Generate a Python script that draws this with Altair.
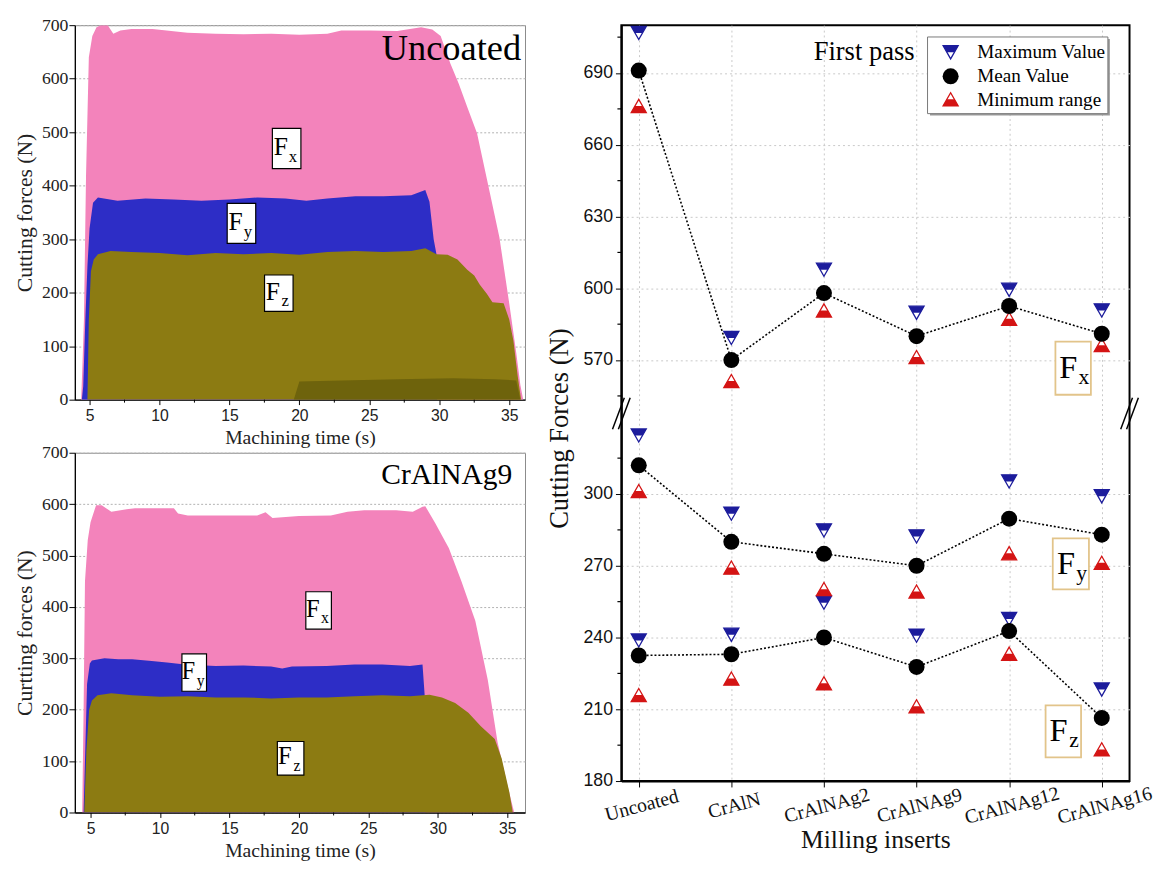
import altair as alt
import pandas as pd

# ---------------- Left panels: cutting-force signal envelopes ----------------
# Uncoated insert (top panel)
unc_fx_t = [4.40, 4.50, 4.60, 4.75, 4.95, 5.20, 5.50, 5.80, 6.30, 6.70, 7.20, 8.0, 9.5, 10.5, 12.0,
            14.0, 16.0, 18.0, 20.0, 22.0, 23.0, 25.0, 27.0, 28.7, 29.5, 30.1, 30.8, 31.4, 32.0, 32.7,
            33.4, 34.3, 35.0, 35.5, 35.8, 36.0]
unc_fx_v = [0, 70, 150, 420, 640, 680, 696, 700, 700, 684, 690, 693, 693, 690, 686,
            684, 683, 684, 682, 684, 690, 690, 689, 696, 692, 680, 628, 590, 547, 498,
            413, 303, 180, 88, 27, 0]
unc_fy_t = [4.45, 4.55, 4.70, 4.85, 5.00, 5.25, 5.60, 7.0, 9.0, 11.0, 13.0, 15.0, 17.0, 19.0, 20.5,
            22.0, 24.0, 26.0, 28.0, 29.0, 29.3, 29.6, 29.8, 29.85]
unc_fy_v = [0, 25, 150, 250, 320, 368, 378, 372, 376, 374, 372, 374, 378, 376, 372,
            376, 380, 380, 382, 392, 370, 300, 272, 0]
unc_fz_t = [4.85, 4.95, 5.10, 5.30, 5.60, 6.5, 8.0, 10.0, 12.0, 14.0, 16.0, 18.0, 20.0, 22.0, 24.0,
            26.0, 28.0, 29.0, 29.8, 30.6, 31.3, 32.0, 32.5, 32.9, 33.4, 33.8, 34.6, 35.0, 35.3, 35.6, 35.85]
unc_fz_v = [0, 150, 240, 262, 272, 278, 276, 274, 270, 274, 272, 274, 271, 276, 278,
            276, 278, 283, 272, 271, 262, 243, 232, 215, 198, 182, 180, 150, 110, 45, 0]
# dense low-level band visible at the bottom of the Uncoated record
unc_base_t = [19.6, 20.0, 23.0, 27.0, 31.0, 34.0, 35.5, 35.8]
unc_base_v = [0, 34, 36, 38, 40, 38, 36, 0]

# CrAlNAg9 insert (bottom panel)
ag9_fx_t = [4.40, 4.50, 4.60, 4.80, 5.00, 5.40, 5.80, 6.50, 7.60, 8.2, 11.0, 11.3, 12.0, 15.0, 17.0,
            17.6, 18.1, 20.0, 22.3, 23.5, 24.7, 27.0, 28.2, 28.9, 29.1, 29.8, 30.8, 31.7, 32.7, 33.6,
            34.3, 35.0, 35.5]
ag9_fx_v = [0, 200, 450, 530, 565, 598, 598, 585, 590, 592, 592, 582, 578, 578, 578,
            584, 573, 577, 578, 585, 588, 588, 585, 595, 596, 564, 514, 450, 373, 258,
            137, 54, 0]
ag9_fy_t = [4.50, 4.60, 4.75, 4.95, 5.10, 6.0, 7.0, 8.0, 9.4, 10.5, 11.8, 14.0, 16.0, 18.0, 18.8,
            19.5, 22.0, 24.0, 26.0, 28.0, 28.9, 29.05, 29.1]
ag9_fy_v = [0, 100, 250, 290, 296, 300, 298, 298, 295, 292, 288, 285, 286, 284, 280,
            284, 285, 288, 288, 285, 288, 230, 0]
ag9_fz_t = [4.55, 4.70, 4.90, 5.10, 5.50, 6.50, 8.0, 10.0, 12.0, 14.0, 16.0, 18.0, 20.0, 22.0, 24.0,
            26.0, 28.0, 29.4, 30.3, 31.25, 32.2, 33.1, 34.1, 34.6, 35.15, 35.4]
ag9_fz_v = [0, 120, 200, 218, 228, 232, 228, 225, 226, 224, 224, 222, 224, 224, 226,
            228, 226, 229, 224, 213, 194, 168, 143, 105, 40, 0]

time_ticks = [5, 10, 15, 20, 25, 30, 35]
time_minor = [7.5, 12.5, 17.5, 22.5, 27.5, 32.5]
force_ticks = [0, 100, 200, 300, 400, 500, 600, 700]

# ---------------- Right panel: first-pass statistics ----------------
inserts = ["Uncoated", "CrAlN", "CrAlNAg2", "CrAlNAg9", "CrAlNAg12", "CrAlNAg16"]
fx_max = [707, 579.5, 608, 590, 599.6, 591]
fx_mean = [691, 570, 598, 580, 592.6, 581]
fx_min = [676, 561, 590.5, 571, 587, 576]
fy_max = [324.7, 292, 285, 282.5, 305.5, 299.3]
fy_mean = [312, 280, 275, 270, 289.7, 283]
fy_min = [301, 269, 260, 259, 275, 271]
fz_max = [239, 241.4, 254.8, 241, 248, 218.5]
fz_mean = [232.5, 233, 240, 227.7, 242.7, 206.4]
fz_min = [215.7, 222.6, 220.6, 211, 233, 193]
right_ticks = [180, 210, 240, 270, 300, 570, 600, 630, 660, 690]
right_minor = [195, 225, 255, 285, 315, 555, 585, 615, 645, 675, 705]
BREAK_SHIFT = 214  # upper segment (548-710) drawn directly above lower one (180-334)

SERIF = "Liberation Serif"
SANS = "Liberation Sans"
PINK, BLUE, OLIVE, DARK_OLIVE = "#F383BB", "#2D2DC6", "#8C7B12", "#6E630C"
MAXC, MINC = "#1C1C9C", "#D41414"
TAN = "#E2C48A"

one = pd.DataFrame({"a": [0]})


def left_panel(series, xdom, h, ytitle, name, name_t, name_v, name_fs, boxes, fsF, fsS):
    xsc = alt.Scale(domain=xdom, nice=False, zero=False)
    ysc = alt.Scale(domain=[0, 700], nice=False)
    xax = alt.Axis(values=time_ticks, title="Machining time (s)", labelFont=SANS, labelFontSize=16,
                   titleFont=SERIF, titleFontSize=20, titleFontWeight="normal", grid=False,
                   tickSize=5, domainColor="black", tickColor="black", domainWidth=1.3,
                   labelColor="#222222", titleColor="#222222", labelPadding=3, titlePadding=5)
    yax = alt.Axis(values=force_ticks, title=ytitle, labelFont=SERIF, labelFontSize=18,
                   titleFont=SERIF, titleFontSize=22, titleFontWeight="normal", grid=True,
                   gridDash=[2, 2], gridColor="#b0b0b0", tickSize=6, domainColor="black",
                   tickColor="black", domainWidth=1.3, labelColor="#222222", titleColor="#222222",
                   labelPadding=1, titlePadding=5)

    def X(f):
        return alt.X(f, type="quantitative", scale=xsc, axis=xax)

    def Y(f):
        return alt.Y(f, type="quantitative", scale=ysc, axis=yax)

    layers = []
    for (t, v), col in series:
        df = pd.DataFrame({"t": t, "v": v})
        layers.append(alt.Chart(df).mark_area(color=col, clip=True, opacity=1).encode(x=X("t"), y=Y("v")))
    # minor time ticks
    layers.append(alt.Chart(pd.DataFrame({"t": time_minor})).mark_rule(color="black", strokeWidth=1)
                  .encode(x=X("t"), y=alt.value(h), y2=alt.value(h + 3)))
    bdf = pd.DataFrame(boxes, columns=["t", "t2", "v", "v2", "sub"])
    bdf["tc"] = (bdf["t"] + bdf["t2"]) / 2
    bdf["vc"] = (bdf["v"] + bdf["v2"]) / 2
    layers.append(alt.Chart(bdf).mark_rect(fill="white", stroke="black", strokeWidth=1.2)
                  .encode(x=X("t"), x2="t2", y=Y("v"), y2="v2"))
    layers.append(alt.Chart(bdf).mark_text(text="F", font=SERIF, fontSize=fsF, dx=-6, dy=fsF * 0.25,
                                           baseline="alphabetic", align="center", color="black")
                  .encode(x=X("tc"), y=Y("vc")))
    layers.append(alt.Chart(bdf).mark_text(font=SERIF, fontSize=fsS, dx=6.5, dy=fsF * 0.25 + 7,
                                           baseline="alphabetic", align="center", color="black")
                  .encode(x=X("tc"), y=Y("vc"), text="sub:N"))
    ndf = pd.DataFrame({"t": [name_t], "v": [name_v]})
    layers.append(alt.Chart(ndf).mark_text(text=name, font=SERIF, fontSize=name_fs, align="right",
                                           baseline="alphabetic", color="black")
                  .encode(x=X("t"), y=Y("v")))
    return alt.layer(*layers).properties(width=458, height=h,
                                         view=alt.ViewBackground(stroke="#8a8a8a", strokeWidth=1))


top = left_panel([((unc_fx_t, unc_fx_v), PINK), ((unc_fy_t, unc_fy_v), BLUE),
                  ((unc_fz_t, unc_fz_v), OLIVE), ((unc_base_t, unc_base_v), DARK_OLIVE)],
                 [3.95, 36.13], 381, "Cutting forces (N)", "Uncoated", 35.85, 634, 37,
                 [[18.07, 20.11, 507, 432, "x"], [14.84, 16.88, 367, 292, "y"], [17.51, 19.55, 233, 165, "z"]],
                 26, 17)
bottom = left_panel([((ag9_fx_t, ag9_fx_v), PINK), ((ag9_fy_t, ag9_fy_v), BLUE),
                     ((ag9_fz_t, ag9_fz_v), OLIVE)],
                    [3.87, 36.28], 366, "Curtting forces (N)", "CrAlNAg9", 35.36, 638.6, 30,
                    [[20.5, 22.34, 429.6, 356.7, "x"], [11.58, 13.35, 308.8, 235.9, "y"], [18.45, 20.36, 138.1, 72.9, "z"]],
                    25, 16)

left = alt.vconcat(top, bottom, spacing=54, bounds="flush")

# ---------------- Right panel ----------------
rows = []
for force, arrs in [("Fx", (fx_max, fx_mean, fx_min)), ("Fy", (fy_max, fy_mean, fy_min)),
                    ("Fz", (fz_max, fz_mean, fz_min))]:
    for stat, arr in zip(["max", "mean", "min"], arrs):
        for i, (ins, val) in enumerate(zip(inserts, arr)):
            rows.append({"insert": ins, "idx": i, "force": force, "stat": stat, "v": val})
rdf = pd.DataFrame(rows)

shifted_ticks = [t - BREAK_SHIFT if t > 400 else t for t in right_ticks]
SHIFT_EXPR = "datum.v > 400 ? datum.v - %d : datum.v" % BREAK_SHIFT

xr_axis = alt.Axis(title="Milling inserts", labelFont=SERIF, labelFontSize=20, labelAngle=-15,
                   labelAlign="center", labelBaseline="top", labelPadding=9, tickSize=6,
                   tickColor="black", domainColor="black", domainWidth=2, labelColor="#111111",
                   grid=True, gridDash=[2, 3], gridColor="#c8c8c8", titleFont=SERIF, titleFontSize=26,
                   titleFontWeight="normal", titleColor="#111111", titlePadding=0)
yr_axis = alt.Axis(values=shifted_ticks, title="Cutting Forces (N)",
                   labelExpr="datum.value > 334 ? format(datum.value + %d, 'd') : format(datum.value, 'd')" % BREAK_SHIFT,
                   labelFont=SANS, labelFontSize=18, tickSize=6, labelPadding=3, tickColor="black",
                   domainColor="black", domainWidth=2, labelColor="#111111", grid=True, gridDash=[2, 3],
                   gridColor="#c8c8c8", titleFont=SERIF, titleFontSize=27, titleFontWeight="normal",
                   titleColor="#111111", titlePadding=10, titleY=410)

XR = alt.X("insert:N", scale=alt.Scale(type="point", domain=inserts, padding=0.244, align=0.385),
           axis=xr_axis)
YR = alt.Y("yt:Q", scale=alt.Scale(domain=[180, 496], nice=False, zero=False), axis=yr_axis)

base = alt.Chart(rdf).transform_calculate(yt=SHIFT_EXPR)

DOWN = "M -1 -0.8 L 1 -0.8 L 0 0.95 Z"
DOWN_HALF = "M -1 -0.8 L 1 -0.8 L 0.5 0.075 L -0.5 0.075 Z"
UP = "M -1 0.8 L 1 0.8 L 0 -0.95 Z"
UP_HALF = "M -1 0.8 L 1 0.8 L 0.5 -0.075 L -0.5 -0.075 Z"
TRI = 235
DOT = 265

r_layers = []
# minor ticks on the force axis
r_layers.append(alt.Chart(pd.DataFrame({"v": right_minor})).transform_calculate(yt=SHIFT_EXPR)
                .mark_rule(color="black", strokeWidth=1.2)
                .encode(y=YR, x=alt.value(-4), x2=alt.value(0)))
r_layers.append(base.transform_filter("datum.stat == 'mean'").mark_line(
    color="black", strokeDash=[2, 2], strokeWidth=1.6).encode(
    x=XR, y=YR, detail="force:N", order="idx:Q"))
mx = base.transform_filter("datum.stat == 'max'")
r_layers.append(mx.mark_point(shape=DOWN, filled=True, fill="white", stroke=MAXC, strokeWidth=1.3,
                              size=TRI, opacity=1).encode(x=XR, y=YR))
r_layers.append(mx.mark_point(shape=DOWN_HALF, filled=True, color=MAXC, size=TRI, opacity=1)
                .encode(x=XR, y=YR))
mn = base.transform_filter("datum.stat == 'min'")
r_layers.append(mn.mark_point(shape=UP, filled=True, fill="white", stroke=MINC, strokeWidth=1.3,
                              size=TRI, opacity=1).encode(x=XR, y=YR))
r_layers.append(mn.mark_point(shape=UP_HALF, filled=True, color=MINC, size=TRI, opacity=1)
                .encode(x=XR, y=YR))
r_layers.append(base.transform_filter("datum.stat == 'mean'").mark_point(
    shape="circle", filled=True, color="black", size=DOT, opacity=1).encode(x=XR, y=YR))

# force labels (boxed)
for x1, x2, y1, y2, sub in [(441.6, 477.7, 322, 376, "x"), (438.9, 475.7, 522, 574, "y"),
                            (431.6, 467.7, 692, 745, "z")]:
    cx, cy = (x1 + x2) / 2, (y1 + y2) / 2
    r_layers.append(alt.Chart(one).mark_rect(fill="white", stroke=TAN, strokeWidth=1.8).encode(
        x=alt.value(x1), x2=alt.value(x2), y=alt.value(y1), y2=alt.value(y2)))
    r_layers.append(alt.Chart(one).mark_text(text="F", font=SERIF, fontSize=33, align="center",
                                             baseline="alphabetic", color="black").encode(
        x=alt.value(cx - 5), y=alt.value(cy + 10)))
    r_layers.append(alt.Chart(one).mark_text(text=sub, font=SERIF, fontSize=22, align="center",
                                             baseline="alphabetic", color="black").encode(
        x=alt.value(cx + 11), y=alt.value(cy + 16)))

# panel caption
r_layers.append(alt.Chart(one).mark_text(text="First pass", font=SERIF, fontSize=27, align="center",
                                         baseline="alphabetic", color="black").encode(
    x=alt.value(247), y=alt.value(35)))

# legend
r_layers.append(alt.Chart(one).mark_rect(fill="#9a9a9a").encode(
    x=alt.value(314), x2=alt.value(497), y=alt.value(14), y2=alt.value(92)))
r_layers.append(alt.Chart(one).mark_rect(fill="white", stroke="#777777", strokeWidth=1).encode(
    x=alt.value(311.5), x2=alt.value(495), y=alt.value(12), y2=alt.value(90)))
leg_items = [("Maximum Value", 27, [(DOWN, "white", MAXC), (DOWN_HALF, MAXC, None)]),
             ("Mean Value", 52, [("circle", "black", None)]),
             ("Minimum range", 76, [(UP, "white", MINC), (UP_HALF, MINC, None)])]
for label, ly, syms in leg_items:
    for shp, fill, stroke in syms:
        if stroke:
            mk = alt.Chart(one).mark_point(shape=shp, filled=True, fill=fill, stroke=stroke,
                                           strokeWidth=1.3, size=TRI, opacity=1)
        else:
            mk = alt.Chart(one).mark_point(shape=shp, filled=True, color=fill,
                                           size=(DOT if shp == "circle" else TRI), opacity=1)
        r_layers.append(mk.encode(x=alt.value(335), y=alt.value(ly)))
    r_layers.append(alt.Chart(one).mark_text(text=label, font=SERIF, fontSize=19.5, align="left",
                                             baseline="middle", color="black").encode(
        x=alt.value(362), y=alt.value(ly)))

# axis break marks
for ax0 in [0, 517]:
    for off in [-3, 3]:
        r_layers.append(alt.Chart(one).mark_rule(color="black", strokeWidth=1.5).encode(
            x=alt.value(ax0 + off - 6), x2=alt.value(ax0 + off + 6),
            y=alt.value(395 + 16), y2=alt.value(395 - 16)))

right = alt.layer(*r_layers).properties(
    width=517, height=769, view=alt.ViewBackground(stroke="black", strokeWidth=2))

chart = alt.hconcat(left, right, spacing=18).properties(
    padding={"left": 5, "top": 0, "right": 5, "bottom": 0}
).configure(background="white")

chart.save("out.html", embed_options={"renderer": "svg", "actions": False})
